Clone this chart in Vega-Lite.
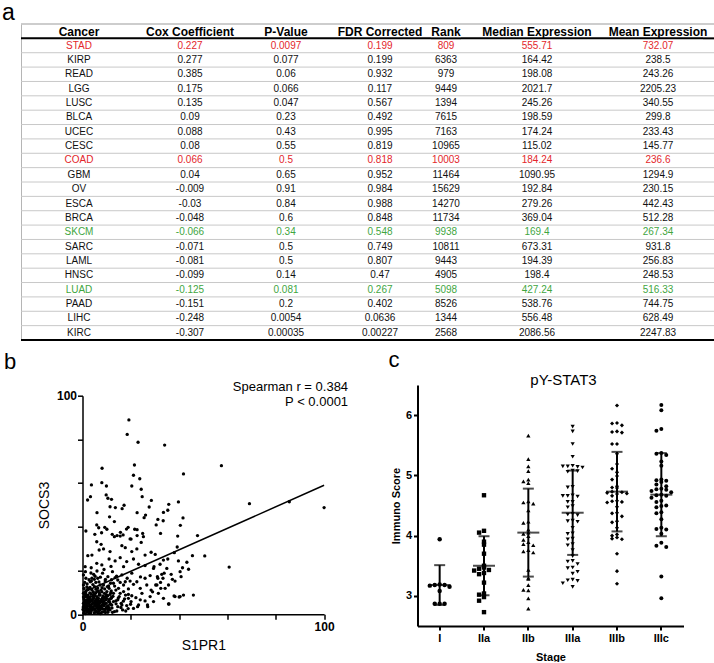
{
"$schema": "https://vega.github.io/schema/vega-lite/v6.json",
"padding": {"left": 2, "top": 2, "right": 0, "bottom": 0},
"background": "white",
"config": {"view": {"stroke": null}, "font": "Liberation Sans", "title": {"color": "black"}},
"datasets": {
"tbl": [
{"Cancer":"STAD","Cox":0.227,"P":0.0097,"FDR":0.199,"Rank":809,"Median":555.71,"Mean":732.07,"Sig":"risk"},
{"Cancer":"KIRP","Cox":0.277,"P":0.077,"FDR":0.199,"Rank":6363,"Median":164.42,"Mean":238.5,"Sig":"none"},
{"Cancer":"READ","Cox":0.385,"P":0.06,"FDR":0.932,"Rank":979,"Median":198.08,"Mean":243.26,"Sig":"none"},
{"Cancer":"LGG","Cox":0.175,"P":0.066,"FDR":0.117,"Rank":9449,"Median":2021.7,"Mean":2205.23,"Sig":"none"},
{"Cancer":"LUSC","Cox":0.135,"P":0.047,"FDR":0.567,"Rank":1394,"Median":245.26,"Mean":340.55,"Sig":"none"},
{"Cancer":"BLCA","Cox":0.09,"P":0.23,"FDR":0.492,"Rank":7615,"Median":198.59,"Mean":299.8,"Sig":"none"},
{"Cancer":"UCEC","Cox":0.088,"P":0.43,"FDR":0.995,"Rank":7163,"Median":174.24,"Mean":233.43,"Sig":"none"},
{"Cancer":"CESC","Cox":0.08,"P":0.55,"FDR":0.819,"Rank":10965,"Median":115.02,"Mean":145.77,"Sig":"none"},
{"Cancer":"COAD","Cox":0.066,"P":0.5,"FDR":0.818,"Rank":10003,"Median":184.24,"Mean":236.6,"Sig":"risk"},
{"Cancer":"GBM","Cox":0.04,"P":0.65,"FDR":0.952,"Rank":11464,"Median":1090.95,"Mean":1294.9,"Sig":"none"},
{"Cancer":"OV","Cox":-0.009,"P":0.91,"FDR":0.984,"Rank":15629,"Median":192.84,"Mean":230.15,"Sig":"none"},
{"Cancer":"ESCA","Cox":-0.03,"P":0.84,"FDR":0.988,"Rank":14270,"Median":279.26,"Mean":442.43,"Sig":"none"},
{"Cancer":"BRCA","Cox":-0.048,"P":0.6,"FDR":0.848,"Rank":11734,"Median":369.04,"Mean":512.28,"Sig":"none"},
{"Cancer":"SKCM","Cox":-0.066,"P":0.34,"FDR":0.548,"Rank":9938,"Median":169.4,"Mean":267.34,"Sig":"favorable"},
{"Cancer":"SARC","Cox":-0.071,"P":0.5,"FDR":0.749,"Rank":10811,"Median":673.31,"Mean":931.8,"Sig":"none"},
{"Cancer":"LAML","Cox":-0.081,"P":0.5,"FDR":0.807,"Rank":9443,"Median":194.39,"Mean":256.83,"Sig":"none"},
{"Cancer":"HNSC","Cox":-0.099,"P":0.14,"FDR":0.47,"Rank":4905,"Median":198.4,"Mean":248.53,"Sig":"none"},
{"Cancer":"LUAD","Cox":-0.125,"P":0.081,"FDR":0.267,"Rank":5098,"Median":427.24,"Mean":516.33,"Sig":"favorable"},
{"Cancer":"PAAD","Cox":-0.151,"P":0.2,"FDR":0.402,"Rank":8526,"Median":538.76,"Mean":744.75,"Sig":"none"},
{"Cancer":"LIHC","Cox":-0.248,"P":0.0054,"FDR":0.0636,"Rank":1344,"Median":556.48,"Mean":628.49,"Sig":"none"},
{"Cancer":"KIRC","Cox":-0.307,"P":0.00035,"FDR":0.00227,"Rank":2568,"Median":2086.56,"Mean":2247.83,"Sig":"none"}
],
"sc": [
{"s1pr1":19.2,"socs3":88.9},{"s1pr1":18.5,"socs3":82.3},{"s1pr1":23.0,"socs3":78.7},{"s1pr1":34.0,"socs3":77.4},{"s1pr1":57.5,"socs3":68.0},{"s1pr1":41.8,"socs3":64.2},{"s1pr1":21.5,"socs3":68.3},{"s1pr1":8.1,"socs3":66.8},{"s1pr1":21.1,"socs3":63.6},{"s1pr1":23.7,"socs3":62.0},{"s1pr1":3.7,"socs3":59.2},{"s1pr1":8.0,"socs3":60.2},{"s1pr1":9.9,"socs3":58.7},{"s1pr1":20.4,"socs3":58.7},{"s1pr1":24.3,"socs3":57.2},{"s1pr1":3.3,"socs3":53.8},{"s1pr1":2.1,"socs3":52.3},{"s1pr1":9.8,"socs3":54.6},{"s1pr1":10.5,"socs3":53.1},{"s1pr1":12.0,"socs3":52.6},{"s1pr1":24.7,"socs3":53.8},{"s1pr1":28.5,"socs3":52.1},{"s1pr1":11.4,"socs3":49.2},{"s1pr1":13.6,"socs3":48.8},{"s1pr1":17.2,"socs3":49.9},{"s1pr1":16.4,"socs3":48.3},{"s1pr1":6.0,"socs3":46.5},{"s1pr1":27.6,"socs3":49.1},{"s1pr1":35.7,"socs3":50.3},{"s1pr1":39.7,"socs3":51.4},{"s1pr1":69.1,"socs3":50.6},{"s1pr1":85.6,"socs3":51.5},{"s1pr1":100,"socs3":48.8},{"s1pr1":33.5,"socs3":46.6},{"s1pr1":35.3,"socs3":47.6},{"s1pr1":22.6,"socs3":46.5},{"s1pr1":26.1,"socs3":45.4},{"s1pr1":25.5,"socs3":44.2},{"s1pr1":11.2,"socs3":44.6},{"s1pr1":13.2,"socs3":42.4},{"s1pr1":31.2,"socs3":43.4},{"s1pr1":33.4,"socs3":42.8},{"s1pr1":41.6,"socs3":44.1},{"s1pr1":5.9,"socs3":40.9},{"s1pr1":6.7,"socs3":39.6},{"s1pr1":9.2,"socs3":39.8},{"s1pr1":10.1,"socs3":38.9},{"s1pr1":18.9,"socs3":39.8},{"s1pr1":18.2,"socs3":39.0},{"s1pr1":21.6,"socs3":38.9},{"s1pr1":22.6,"socs3":38.7},{"s1pr1":30.5,"socs3":40.9},{"s1pr1":40.5,"socs3":40.7},{"s1pr1":1.4,"socs3":38.1},{"s1pr1":5.1,"socs3":36.6},{"s1pr1":7.9,"socs3":37.3},{"s1pr1":12.3,"socs3":36.6},{"s1pr1":14.3,"socs3":36.0},{"s1pr1":15.7,"socs3":37.5},{"s1pr1":16.8,"socs3":36.3},{"s1pr1":24.9,"socs3":37.0},{"s1pr1":32.3,"socs3":37.0},{"s1pr1":39.4,"socs3":35.8},{"s1pr1":22.6,"socs3":36.0},{"s1pr1":20.1,"socs3":34.4},{"s1pr1":47.6,"socs3":36.0},
{"s1pr1":38.0,"socs3":28.2},{"s1pr1":45.5,"socs3":26.8},{"s1pr1":50.6,"socs3":26.7},{"s1pr1":60.7,"socs3":21.6},{"s1pr1":40.8,"socs3":17.2},{"s1pr1":37.2,"socs3":16.0},{"s1pr1":37.9,"socs3":8.4},{"s1pr1":40.0,"socs3":7.9},{"s1pr1":41.8,"socs3":8.8},{"s1pr1":35.8,"socs3":4.7},
{"s1pr1":5.9,"socs3":33.2},{"s1pr1":7.7,"socs3":32.0},{"s1pr1":3.9,"socs3":27.1},{"s1pr1":2.2,"socs3":26.8},{"s1pr1":6.9,"socs3":29.4},{"s1pr1":8.7,"socs3":29.9},{"s1pr1":11.4,"socs3":28.7},{"s1pr1":13.2,"socs3":35.5},{"s1pr1":15.6,"socs3":35.8},{"s1pr1":16.3,"socs3":31.4},{"s1pr1":17.7,"socs3":30.5},{"s1pr1":19.7,"socs3":34.5},{"s1pr1":20.4,"socs3":28.7},{"s1pr1":22.5,"socs3":29.9},{"s1pr1":24.3,"socs3":32.9},{"s1pr1":25.2,"socs3":35.5},{"s1pr1":25.9,"socs3":27.1},{"s1pr1":28.4,"socs3":28.4},{"s1pr1":30.1,"socs3":27.4},{"s1pr1":33.5,"socs3":24.8},{"s1pr1":35.3,"socs3":25.3},{"s1pr1":39.2,"socs3":30.8},{"s1pr1":39.7,"socs3":24.4},{"s1pr1":43.2,"socs3":23.8},{"s1pr1":11.0,"socs3":25.3},{"s1pr1":13.5,"socs3":24.4},{"s1pr1":15.6,"socs3":25.9},{"s1pr1":18.3,"socs3":24.1},{"s1pr1":21.1,"socs3":25.3},{"s1pr1":23.2,"socs3":22.9},{"s1pr1":5.9,"socs3":23.3},{"s1pr1":3.6,"socs3":21.3},{"s1pr1":1.1,"socs3":21.8},{"s1pr1":8.0,"socs3":22.6},{"s1pr1":17.0,"socs3":21.8},{"s1pr1":25.9,"socs3":22.3},{"s1pr1":29.4,"socs3":21.0},{"s1pr1":32.1,"socs3":22.9},{"s1pr1":41.4,"socs3":21.3},{"s1pr1":43.9,"socs3":20.6},
{"s1pr1":26.9,"socs3":4.3},{"s1pr1":22.8,"socs3":3.5},{"s1pr1":30.3,"socs3":13.4},{"s1pr1":32.4,"socs3":11.9},{"s1pr1":29.0,"socs3":10.3},{"s1pr1":31.0,"socs3":17.2},{"s1pr1":33.8,"socs3":18.8},{"s1pr1":29.6,"socs3":21.8},{"s1pr1":33.3,"socs3":16.5},{"s1pr1":34.9,"socs3":21.0},
{"s1pr1":1.4,"socs3":16.5},{"s1pr1":3.2,"socs3":14.9},{"s1pr1":4.6,"socs3":18.3},{"s1pr1":6.3,"socs3":16.5},{"s1pr1":8.3,"socs3":18.8},{"s1pr1":10.5,"socs3":17.2},{"s1pr1":12.4,"socs3":19.5},{"s1pr1":14.6,"socs3":15.7},{"s1pr1":16.3,"socs3":18.0},{"s1pr1":18.5,"socs3":16.5},{"s1pr1":20.4,"socs3":18.8},{"s1pr1":22.5,"socs3":14.9},{"s1pr1":24.0,"socs3":17.1},{"s1pr1":25.9,"socs3":16.5},{"s1pr1":28.0,"socs3":17.7},{"s1pr1":31.2,"socs3":16.5},{"s1pr1":32.3,"socs3":14.6},{"s1pr1":35.6,"socs3":13.4},{"s1pr1":38.3,"socs3":15.2},{"s1pr1":30.8,"socs3":13.4},{"s1pr1":26.6,"socs3":13.4},{"s1pr1":0.4,"socs3":13.4},{"s1pr1":2.5,"socs3":11.9},{"s1pr1":5.0,"socs3":12.7},{"s1pr1":6.6,"socs3":10.7},{"s1pr1":8.7,"socs3":13.4},{"s1pr1":11.0,"socs3":11.9},{"s1pr1":12.8,"socs3":14.2},{"s1pr1":14.9,"socs3":11.9},{"s1pr1":17.0,"socs3":13.4},{"s1pr1":19.0,"socs3":11.6},{"s1pr1":21.1,"socs3":13.7},{"s1pr1":23.9,"socs3":11.9},{"s1pr1":28.4,"socs3":11.1},{"s1pr1":34.2,"socs3":11.9},{"s1pr1":0.4,"socs3":18.0},{"s1pr1":9.4,"socs3":15.2},{"s1pr1":11.6,"socs3":14.2},{"s1pr1":13.5,"socs3":16.8},{"s1pr1":17.7,"socs3":14.9},{"s1pr1":5.5,"socs3":14.6},{"s1pr1":7.3,"socs3":13.4},{"s1pr1":3.9,"socs3":16.5},{"s1pr1":15.6,"socs3":14.6},{"s1pr1":19.7,"socs3":15.2},{"s1pr1":32.8,"socs3":18.3},{"s1pr1":36.7,"socs3":18.3},{"s1pr1":40.4,"socs3":19.5},
{"s1pr1":0.4,"socs3":9.6},{"s1pr1":1.1,"socs3":8.1},{"s1pr1":1.7,"socs3":6.6},{"s1pr1":0.4,"socs3":5.0},{"s1pr1":1.1,"socs3":3.5},{"s1pr1":0.8,"socs3":1.5},{"s1pr1":2.2,"socs3":2.4},{"s1pr1":2.5,"socs3":5.0},{"s1pr1":3.2,"socs3":8.1},{"s1pr1":3.6,"socs3":4.0},{"s1pr1":4.1,"socs3":6.6},{"s1pr1":4.6,"socs3":9.1},{"s1pr1":5.0,"socs3":2.0},{"s1pr1":5.2,"socs3":5.0},{"s1pr1":5.9,"socs3":7.3},{"s1pr1":6.3,"socs3":3.5},{"s1pr1":6.6,"socs3":1.2},{"s1pr1":6.9,"socs3":8.8},{"s1pr1":7.3,"socs3":5.8},{"s1pr1":7.7,"socs3":2.7},{"s1pr1":8.3,"socs3":7.6},{"s1pr1":8.7,"socs3":4.6},{"s1pr1":9.1,"socs3":9.6},{"s1pr1":9.4,"socs3":1.5},{"s1pr1":9.7,"socs3":6.6},{"s1pr1":10.1,"socs3":3.5},{"s1pr1":10.5,"socs3":8.5},{"s1pr1":10.8,"socs3":5.8},{"s1pr1":11.4,"socs3":2.0},{"s1pr1":11.9,"socs3":7.3},{"s1pr1":12.1,"socs3":4.3},{"s1pr1":12.8,"socs3":9.6},{"s1pr1":13.2,"socs3":1.2},{"s1pr1":13.8,"socs3":6.1},{"s1pr1":14.6,"socs3":3.5},{"s1pr1":15.2,"socs3":8.1},{"s1pr1":16.0,"socs3":5.0},{"s1pr1":16.6,"socs3":2.0},{"s1pr1":17.4,"socs3":7.0},{"s1pr1":18.3,"socs3":4.0},{"s1pr1":19.0,"socs3":9.1},{"s1pr1":20.1,"socs3":5.8},{"s1pr1":21.1,"socs3":2.7},{"s1pr1":22.1,"socs3":7.6},{"s1pr1":23.2,"socs3":4.3},{"s1pr1":24.6,"socs3":9.6},{"s1pr1":25.9,"socs3":6.1},{"s1pr1":27.0,"socs3":3.5},{"s1pr1":28.0,"socs3":8.1},{"s1pr1":29.4,"socs3":5.8},{"s1pr1":31.4,"socs3":9.6},{"s1pr1":33.5,"socs3":7.3},{"s1pr1":35.6,"socs3":4.7},{"s1pr1":38.3,"socs3":8.1},{"s1pr1":40.4,"socs3":8.1},{"s1pr1":45.9,"socs3":8.8},
{"s1pr1":1.4,"socs3":6.1},{"s1pr1":2.8,"socs3":0.9},{"s1pr1":3.9,"socs3":3.0},{"s1pr1":5.5,"socs3":0.9},{"s1pr1":6.2,"socs3":6.1},{"s1pr1":7.0,"socs3":4.0},{"s1pr1":8.0,"socs3":0.9},{"s1pr1":9.8,"socs3":5.0},{"s1pr1":11.0,"socs3":3.0},{"s1pr1":12.4,"socs3":0.9},{"s1pr1":4.6,"socs3":7.6},{"s1pr1":3.2,"socs3":5.8},{"s1pr1":1.9,"socs3":4.0},{"s1pr1":0.6,"socs3":7.0},{"s1pr1":2.2,"socs3":8.8},{"s1pr1":5.9,"socs3":10.4},{"s1pr1":7.7,"socs3":11.1},{"s1pr1":10.1,"socs3":10.4},{"s1pr1":11.9,"socs3":10.7},{"s1pr1":13.8,"socs3":11.1},{"s1pr1":3.9,"socs3":11.1},{"s1pr1":1.4,"socs3":10.7},{"s1pr1":17.0,"socs3":10.4},{"s1pr1":19.0,"socs3":7.3},{"s1pr1":14.6,"socs3":6.6},{"s1pr1":15.6,"socs3":9.6},{"s1pr1":20.4,"socs3":8.5},{"s1pr1":23.9,"socs3":6.6},{"s1pr1":17.9,"socs3":1.5},{"s1pr1":11.4,"socs3":9.1},{"s1pr1":6.6,"socs3":7.3},{"s1pr1":5.0,"socs3":4.3},{"s1pr1":8.4,"socs3":2.4},{"s1pr1":10.5,"socs3":0.9},{"s1pr1":14.2,"socs3":1.5},{"s1pr1":16.3,"socs3":4.3},{"s1pr1":2.5,"socs3":2.0},{"s1pr1":7.3,"socs3":8.8},{"s1pr1":12.8,"socs3":5.8},{"s1pr1":9.4,"socs3":7.9},
{"s1pr1":1.8,"socs3":12.5},{"s1pr1":3.0,"socs3":9.8},{"s1pr1":4.3,"socs3":13.6},{"s1pr1":5.6,"socs3":11.5},{"s1pr1":6.8,"socs3":14.8},{"s1pr1":8.1,"socs3":12.2},{"s1pr1":9.5,"socs3":16.0},{"s1pr1":10.8,"socs3":13.0},{"s1pr1":12.0,"socs3":15.8},{"s1pr1":13.3,"socs3":12.9},{"s1pr1":14.1,"socs3":17.5},{"s1pr1":2.7,"socs3":15.8},{"s1pr1":0.9,"socs3":14.6},{"s1pr1":3.5,"socs3":18.9},{"s1pr1":6.0,"socs3":19.8},{"s1pr1":8.9,"socs3":20.5},{"s1pr1":11.8,"socs3":21.9},{"s1pr1":7.4,"socs3":17.0},{"s1pr1":4.9,"socs3":16.0},{"s1pr1":1.2,"socs3":19.5},{"s1pr1":9.9,"socs3":9.0},{"s1pr1":11.3,"socs3":6.9},{"s1pr1":12.6,"socs3":8.2},{"s1pr1":13.9,"socs3":4.8},{"s1pr1":14.8,"socs3":7.4},{"s1pr1":15.9,"socs3":3.1},{"s1pr1":16.9,"socs3":6.0},{"s1pr1":17.8,"socs3":8.8},{"s1pr1":18.9,"socs3":2.6},{"s1pr1":19.9,"socs3":4.6},{"s1pr1":2.0,"socs3":1.0},{"s1pr1":3.8,"socs3":1.8},{"s1pr1":5.8,"socs3":2.8},{"s1pr1":7.6,"socs3":3.8},{"s1pr1":9.2,"socs3":2.2},{"s1pr1":10.6,"socs3":4.0},{"s1pr1":4.4,"socs3":5.2},{"s1pr1":6.7,"socs3":6.2},{"s1pr1":8.5,"socs3":8.4},{"s1pr1":2.6,"socs3":7.6},
{"s1pr1":0.5,"socs3":0.5},{"s1pr1":1.0,"socs3":2.8},{"s1pr1":1.6,"socs3":4.8},{"s1pr1":2.3,"socs3":6.9},{"s1pr1":2.9,"socs3":3.6},{"s1pr1":3.4,"socs3":1.2},{"s1pr1":4.0,"socs3":4.9},{"s1pr1":4.7,"socs3":2.6},{"s1pr1":5.3,"socs3":6.4},{"s1pr1":5.8,"socs3":4.1},{"s1pr1":6.4,"socs3":0.6},{"s1pr1":7.1,"socs3":5.3},{"s1pr1":7.9,"socs3":6.9},{"s1pr1":8.6,"socs3":1.1},{"s1pr1":9.0,"socs3":3.9},{"s1pr1":9.6,"socs3":8.0},{"s1pr1":10.3,"socs3":2.6},{"s1pr1":10.9,"socs3":6.6},{"s1pr1":11.6,"socs3":4.6},{"s1pr1":12.2,"socs3":2.9},{"s1pr1":0.3,"socs3":3.3},{"s1pr1":0.9,"socs3":6.0},{"s1pr1":1.5,"socs3":8.6},{"s1pr1":2.0,"socs3":5.4},{"s1pr1":2.8,"socs3":7.0},{"s1pr1":3.3,"socs3":2.9},{"s1pr1":4.2,"socs3":8.3},{"s1pr1":4.8,"socs3":0.7},{"s1pr1":5.4,"socs3":3.9},{"s1pr1":6.0,"socs3":8.1},{"s1pr1":6.5,"socs3":4.6},{"s1pr1":7.2,"socs3":1.9},{"s1pr1":7.8,"socs3":6.3},{"s1pr1":8.2,"socs3":4.4},{"s1pr1":8.9,"socs3":5.9},{"s1pr1":9.5,"socs3":0.8},{"s1pr1":10.0,"socs3":7.3},{"s1pr1":10.7,"socs3":1.9},{"s1pr1":11.2,"socs3":5.5},{"s1pr1":12.0,"socs3":7.8},{"s1pr1":0.6,"socs3":11.8},{"s1pr1":1.3,"socs3":9.9},{"s1pr1":2.1,"socs3":11.3},{"s1pr1":3.1,"socs3":12.3},{"s1pr1":4.5,"socs3":10.2},{"s1pr1":5.1,"socs3":8.6},{"s1pr1":6.3,"socs3":12.0},{"s1pr1":7.0,"socs3":9.7},{"s1pr1":8.0,"socs3":10.3},{"s1pr1":9.2,"socs3":11.6},{"s1pr1":10.3,"socs3":12.7},{"s1pr1":11.7,"socs3":9.9},{"s1pr1":1.9,"socs3":13.9},{"s1pr1":3.7,"socs3":15.2},{"s1pr1":5.2,"socs3":17.4},{"s1pr1":0.2,"socs3":2.2},{"s1pr1":1.2,"socs3":0.3},{"s1pr1":2.4,"socs3":1.5},{"s1pr1":3.0,"socs3":4.4},{"s1pr1":6.9,"socs3":3.0},
{"s1pr1":0.7,"socs3":4.1},{"s1pr1":1.4,"socs3":1.9},{"s1pr1":2.0,"socs3":7.9},{"s1pr1":2.7,"socs3":5.9},{"s1pr1":3.3,"socs3":0.4},{"s1pr1":3.9,"socs3":6.3},{"s1pr1":4.5,"socs3":3.4},{"s1pr1":5.0,"socs3":5.7},{"s1pr1":5.6,"socs3":1.6},{"s1pr1":6.1,"socs3":7.1},{"s1pr1":6.8,"socs3":5.0},{"s1pr1":7.4,"socs3":0.3},{"s1pr1":8.0,"socs3":3.1},{"s1pr1":8.7,"socs3":7.1},{"s1pr1":9.3,"socs3":4.8},{"s1pr1":9.9,"socs3":2.9},{"s1pr1":0.4,"socs3":7.9},{"s1pr1":1.1,"socs3":5.2},{"s1pr1":1.8,"socs3":3.1},{"s1pr1":2.5,"socs3":0.8},{"s1pr1":3.1,"socs3":6.8},{"s1pr1":3.7,"socs3":2.2},{"s1pr1":4.3,"socs3":7.2},{"s1pr1":5.9,"socs3":5.3},{"s1pr1":6.6,"socs3":2.2},{"s1pr1":7.5,"socs3":6.0},{"s1pr1":8.3,"socs3":5.5},{"s1pr1":0.9,"socs3":9.1},{"s1pr1":3.5,"socs3":9.4},{"s1pr1":5.4,"socs3":9.6}
],
"ihc": [
{"stage":"I","score":3.94},{"stage":"I","score":3.19},{"stage":"I","score":3.18},{"stage":"I","score":3.18},{"stage":"I","score":3.17},{"stage":"I","score":3.15},{"stage":"I","score":3.08},{"stage":"I","score":2.87},{"stage":"I","score":2.87},{"stage":"I","score":2.87},
{"stage":"IIa","score":4.67},{"stage":"IIa","score":4.08},{"stage":"IIa","score":4.05},{"stage":"IIa","score":3.90},{"stage":"IIa","score":3.85},{"stage":"IIa","score":3.70},{"stage":"IIa","score":3.50},{"stage":"IIa","score":3.47},{"stage":"IIa","score":3.45},{"stage":"IIa","score":3.43},{"stage":"IIa","score":3.42},{"stage":"IIa","score":3.38},{"stage":"IIa","score":3.36},{"stage":"IIa","score":3.22},{"stage":"IIa","score":3.04},{"stage":"IIa","score":3.02},{"stage":"IIa","score":2.98},{"stage":"IIa","score":2.92},{"stage":"IIa","score":2.73},
{"stage":"IIb","score":5.66},{"stage":"IIb","score":5.27},{"stage":"IIb","score":5.15},{"stage":"IIb","score":5.07},{"stage":"IIb","score":4.93},{"stage":"IIb","score":4.90},{"stage":"IIb","score":4.87},{"stage":"IIb","score":4.57},{"stage":"IIb","score":4.55},{"stage":"IIb","score":4.53},{"stage":"IIb","score":4.42},{"stage":"IIb","score":4.23},{"stage":"IIb","score":4.21},{"stage":"IIb","score":4.10},{"stage":"IIb","score":4.05},{"stage":"IIb","score":4.03},{"stage":"IIb","score":3.99},{"stage":"IIb","score":3.93},{"stage":"IIb","score":3.89},{"stage":"IIb","score":3.86},{"stage":"IIb","score":3.84},{"stage":"IIb","score":3.76},{"stage":"IIb","score":3.74},{"stage":"IIb","score":3.72},{"stage":"IIb","score":3.43},{"stage":"IIb","score":3.30},{"stage":"IIb","score":3.28},{"stage":"IIb","score":3.18},{"stage":"IIb","score":3.10},{"stage":"IIb","score":3.09},{"stage":"IIb","score":2.96},{"stage":"IIb","score":2.79},
{"stage":"IIIa","score":5.81},{"stage":"IIIa","score":5.73},{"stage":"IIIa","score":5.52},{"stage":"IIIa","score":5.31},{"stage":"IIIa","score":5.16},{"stage":"IIIa","score":5.15},{"stage":"IIIa","score":5.14},{"stage":"IIIa","score":5.15},{"stage":"IIIa","score":5.13},{"stage":"IIIa","score":5.08},{"stage":"IIIa","score":5.06},{"stage":"IIIa","score":5.07},{"stage":"IIIa","score":4.81},{"stage":"IIIa","score":4.80},{"stage":"IIIa","score":4.67},{"stage":"IIIa","score":4.66},{"stage":"IIIa","score":4.65},{"stage":"IIIa","score":4.66},{"stage":"IIIa","score":4.56},{"stage":"IIIa","score":4.56},{"stage":"IIIa","score":4.49},{"stage":"IIIa","score":4.47},{"stage":"IIIa","score":4.36},{"stage":"IIIa","score":4.35},{"stage":"IIIa","score":4.34},{"stage":"IIIa","score":4.25},{"stage":"IIIa","score":4.24},{"stage":"IIIa","score":4.23},{"stage":"IIIa","score":4.13},{"stage":"IIIa","score":4.04},{"stage":"IIIa","score":4.03},{"stage":"IIIa","score":3.95},{"stage":"IIIa","score":3.94},{"stage":"IIIa","score":3.86},{"stage":"IIIa","score":3.84},{"stage":"IIIa","score":3.76},{"stage":"IIIa","score":3.66},{"stage":"IIIa","score":3.58},{"stage":"IIIa","score":3.57},{"stage":"IIIa","score":3.53},{"stage":"IIIa","score":3.47},{"stage":"IIIa","score":3.46},{"stage":"IIIa","score":3.40},{"stage":"IIIa","score":3.37},{"stage":"IIIa","score":3.27},{"stage":"IIIa","score":3.26},{"stage":"IIIa","score":3.25},{"stage":"IIIa","score":3.21},{"stage":"IIIa","score":3.15},
{"stage":"IIIb","score":6.16},{"stage":"IIIb","score":5.87},{"stage":"IIIb","score":5.86},{"stage":"IIIb","score":5.83},{"stage":"IIIb","score":5.73},{"stage":"IIIb","score":5.72},{"stage":"IIIb","score":5.71},{"stage":"IIIb","score":5.52},{"stage":"IIIb","score":5.52},{"stage":"IIIb","score":5.36},{"stage":"IIIb","score":5.19},{"stage":"IIIb","score":5.11},{"stage":"IIIb","score":5.05},{"stage":"IIIb","score":4.99},{"stage":"IIIb","score":4.93},{"stage":"IIIb","score":4.82},{"stage":"IIIb","score":4.80},{"stage":"IIIb","score":4.79},{"stage":"IIIb","score":4.73},{"stage":"IIIb","score":4.72},{"stage":"IIIb","score":4.71},{"stage":"IIIb","score":4.70},{"stage":"IIIb","score":4.69},{"stage":"IIIb","score":4.66},{"stage":"IIIb","score":4.58},{"stage":"IIIb","score":4.57},{"stage":"IIIb","score":4.56},{"stage":"IIIb","score":4.55},{"stage":"IIIb","score":4.48},{"stage":"IIIb","score":4.38},{"stage":"IIIb","score":4.37},{"stage":"IIIb","score":4.32},{"stage":"IIIb","score":4.24},{"stage":"IIIb","score":4.22},{"stage":"IIIb","score":4.13},{"stage":"IIIb","score":4.02},{"stage":"IIIb","score":4.00},{"stage":"IIIb","score":3.97},{"stage":"IIIb","score":3.95},{"stage":"IIIb","score":3.94},{"stage":"IIIb","score":3.70},{"stage":"IIIb","score":3.41},{"stage":"IIIb","score":3.20},
{"stage":"IIIc","score":6.17},{"stage":"IIIc","score":6.08},{"stage":"IIIc","score":5.77},{"stage":"IIIc","score":5.74},{"stage":"IIIc","score":5.37},{"stage":"IIIc","score":5.36},{"stage":"IIIc","score":5.34},{"stage":"IIIc","score":5.23},{"stage":"IIIc","score":5.16},{"stage":"IIIc","score":4.93},{"stage":"IIIc","score":4.92},{"stage":"IIIc","score":4.91},{"stage":"IIIc","score":4.89},{"stage":"IIIc","score":4.85},{"stage":"IIIc","score":4.82},{"stage":"IIIc","score":4.78},{"stage":"IIIc","score":4.77},{"stage":"IIIc","score":4.76},{"stage":"IIIc","score":4.74},{"stage":"IIIc","score":4.72},{"stage":"IIIc","score":4.68},{"stage":"IIIc","score":4.67},{"stage":"IIIc","score":4.66},{"stage":"IIIc","score":4.63},{"stage":"IIIc","score":4.58},{"stage":"IIIc","score":4.56},{"stage":"IIIc","score":4.50},{"stage":"IIIc","score":4.49},{"stage":"IIIc","score":4.47},{"stage":"IIIc","score":4.39},{"stage":"IIIc","score":4.37},{"stage":"IIIc","score":4.27},{"stage":"IIIc","score":4.13},{"stage":"IIIc","score":4.11},{"stage":"IIIc","score":4.10},{"stage":"IIIc","score":4.03},{"stage":"IIIc","score":3.88},{"stage":"IIIc","score":3.83},{"stage":"IIIc","score":3.81},{"stage":"IIIc","score":3.32},{"stage":"IIIc","score":2.96}
],
"ihcsum": [
{"stage":"I","mean":3.18,"sd":0.33},
{"stage":"IIa","mean":3.50,"sd":0.49},
{"stage":"IIb","mean":4.05,"sd":0.73},
{"stage":"IIIa","mean":4.38,"sd":0.70},
{"stage":"IIIb","mean":4.73,"sd":0.66},
{"stage":"IIIc","mean":4.68,"sd":0.69}
]
},
"spacing": 8,
"vconcat": [
{
"title": {"text": "a", "anchor": "start", "fontSize": 23, "fontWeight": "normal", "dx": -18, "offset": -2},
"bounds": "flush",
"spacing": 0,
"hconcat": [
{"width":116,"height":316,"data":{"name":"tbl"},"layer":[
{"mark":{"type":"rule","color":"#c8c8c8","strokeWidth":1},"encoding":{"y":{"field":"Cancer","type":"nominal","bandPosition":0,"scale":{"type":"band","domain":["header","STAD","KIRP","READ","LGG","LUSC","BLCA","UCEC","CESC","COAD","GBM","OV","ESCA","BRCA","SKCM","SARC","LAML","HNSC","LUAD","PAAD","LIHC","KIRC"],"paddingInner":0,"paddingOuter":0},"axis":{"domain":true,"domainColor":"#b5b5b5","domainWidth":1,"labels":false,"ticks":false,"grid":false,"title":null}}}},
{"mark":{"type":"text","fontSize":10},"encoding":{"y":{"field":"Cancer","type":"nominal","bandPosition":0.5},"text":{"field":"Cancer","type":"nominal"},"color":{"field":"Sig","type":"nominal","scale":{"domain":["risk","favorable","none"],"range":["#e3262b","#3fa63f","#111111"]},"legend":null}}},
{"data":{"values":[{}]},"mark":{"type":"text","fontSize":12,"fontWeight":"bold","color":"black","text":"Cancer","dy":1},"encoding":{"y":{"datum":"header","bandPosition":0.5}}},
{"data":{"values":[{}]},"mark":{"type":"rule","color":"#bdbdbd","strokeWidth":1.5},"encoding":{"y":{"datum":"header","bandPosition":0}}},
{"data":{"values":[{}]},"mark":{"type":"rule","color":"black","strokeWidth":2},"encoding":{"y":{"datum":"STAD","bandPosition":0}}},
{"data":{"values":[{}]},"mark":{"type":"rule","color":"black","strokeWidth":2},"encoding":{"y":{"datum":"KIRC","bandPosition":1}}}
]},
{"width":106,"height":316,"data":{"name":"tbl"},"layer":[
{"mark":{"type":"rule","color":"#c8c8c8","strokeWidth":1},"encoding":{"y":{"field":"Cancer","type":"nominal","bandPosition":0,"scale":{"type":"band","domain":["header","STAD","KIRP","READ","LGG","LUSC","BLCA","UCEC","CESC","COAD","GBM","OV","ESCA","BRCA","SKCM","SARC","LAML","HNSC","LUAD","PAAD","LIHC","KIRC"],"paddingInner":0,"paddingOuter":0},"axis":null}}},
{"mark":{"type":"text","fontSize":10},"encoding":{"y":{"field":"Cancer","type":"nominal","bandPosition":0.5},"text":{"field":"Cox","type":"nominal"},"color":{"field":"Sig","type":"nominal","scale":{"domain":["risk","favorable","none"],"range":["#e3262b","#3fa63f","#111111"]},"legend":null}}},
{"data":{"values":[{}]},"mark":{"type":"text","fontSize":12,"fontWeight":"bold","color":"black","text":"Cox Coefficient","dy":1},"encoding":{"y":{"datum":"header","bandPosition":0.5}}},
{"data":{"values":[{}]},"mark":{"type":"rule","color":"#bdbdbd","strokeWidth":1.5},"encoding":{"y":{"datum":"header","bandPosition":0}}},
{"data":{"values":[{}]},"mark":{"type":"rule","color":"black","strokeWidth":2},"encoding":{"y":{"datum":"STAD","bandPosition":0}}},
{"data":{"values":[{}]},"mark":{"type":"rule","color":"black","strokeWidth":2},"encoding":{"y":{"datum":"KIRC","bandPosition":1}}}
]},
{"width":86,"height":316,"data":{"name":"tbl"},"layer":[
{"mark":{"type":"rule","color":"#c8c8c8","strokeWidth":1},"encoding":{"y":{"field":"Cancer","type":"nominal","bandPosition":0,"scale":{"type":"band","domain":["header","STAD","KIRP","READ","LGG","LUSC","BLCA","UCEC","CESC","COAD","GBM","OV","ESCA","BRCA","SKCM","SARC","LAML","HNSC","LUAD","PAAD","LIHC","KIRC"],"paddingInner":0,"paddingOuter":0},"axis":null}}},
{"mark":{"type":"text","fontSize":10},"encoding":{"y":{"field":"Cancer","type":"nominal","bandPosition":0.5},"text":{"field":"P","type":"nominal"},"color":{"field":"Sig","type":"nominal","scale":{"domain":["risk","favorable","none"],"range":["#e3262b","#3fa63f","#111111"]},"legend":null}}},
{"data":{"values":[{}]},"mark":{"type":"text","fontSize":12,"fontWeight":"bold","color":"black","text":"P-Value","dy":1},"encoding":{"y":{"datum":"header","bandPosition":0.5}}},
{"data":{"values":[{}]},"mark":{"type":"rule","color":"#bdbdbd","strokeWidth":1.5},"encoding":{"y":{"datum":"header","bandPosition":0}}},
{"data":{"values":[{}]},"mark":{"type":"rule","color":"black","strokeWidth":2},"encoding":{"y":{"datum":"STAD","bandPosition":0}}},
{"data":{"values":[{}]},"mark":{"type":"rule","color":"black","strokeWidth":2},"encoding":{"y":{"datum":"KIRC","bandPosition":1}}}
]},
{"width":102,"height":316,"data":{"name":"tbl"},"layer":[
{"mark":{"type":"rule","color":"#c8c8c8","strokeWidth":1},"encoding":{"y":{"field":"Cancer","type":"nominal","bandPosition":0,"scale":{"type":"band","domain":["header","STAD","KIRP","READ","LGG","LUSC","BLCA","UCEC","CESC","COAD","GBM","OV","ESCA","BRCA","SKCM","SARC","LAML","HNSC","LUAD","PAAD","LIHC","KIRC"],"paddingInner":0,"paddingOuter":0},"axis":null}}},
{"mark":{"type":"text","fontSize":10},"encoding":{"y":{"field":"Cancer","type":"nominal","bandPosition":0.5},"text":{"field":"FDR","type":"nominal"},"color":{"field":"Sig","type":"nominal","scale":{"domain":["risk","favorable","none"],"range":["#e3262b","#3fa63f","#111111"]},"legend":null}}},
{"data":{"values":[{}]},"mark":{"type":"text","fontSize":12,"fontWeight":"bold","color":"black","text":"FDR Corrected","dy":1},"encoding":{"y":{"datum":"header","bandPosition":0.5}}},
{"data":{"values":[{}]},"mark":{"type":"rule","color":"#bdbdbd","strokeWidth":1.5},"encoding":{"y":{"datum":"header","bandPosition":0}}},
{"data":{"values":[{}]},"mark":{"type":"rule","color":"black","strokeWidth":2},"encoding":{"y":{"datum":"STAD","bandPosition":0}}},
{"data":{"values":[{}]},"mark":{"type":"rule","color":"black","strokeWidth":2},"encoding":{"y":{"datum":"KIRC","bandPosition":1}}}
]},
{"width":30,"height":316,"data":{"name":"tbl"},"layer":[
{"mark":{"type":"rule","color":"#c8c8c8","strokeWidth":1},"encoding":{"y":{"field":"Cancer","type":"nominal","bandPosition":0,"scale":{"type":"band","domain":["header","STAD","KIRP","READ","LGG","LUSC","BLCA","UCEC","CESC","COAD","GBM","OV","ESCA","BRCA","SKCM","SARC","LAML","HNSC","LUAD","PAAD","LIHC","KIRC"],"paddingInner":0,"paddingOuter":0},"axis":null}}},
{"mark":{"type":"text","fontSize":10},"encoding":{"y":{"field":"Cancer","type":"nominal","bandPosition":0.5},"text":{"field":"Rank","type":"nominal"},"color":{"field":"Sig","type":"nominal","scale":{"domain":["risk","favorable","none"],"range":["#e3262b","#3fa63f","#111111"]},"legend":null}}},
{"data":{"values":[{}]},"mark":{"type":"text","fontSize":12,"fontWeight":"bold","color":"black","text":"Rank","dy":1},"encoding":{"y":{"datum":"header","bandPosition":0.5}}},
{"data":{"values":[{}]},"mark":{"type":"rule","color":"#bdbdbd","strokeWidth":1.5},"encoding":{"y":{"datum":"header","bandPosition":0}}},
{"data":{"values":[{}]},"mark":{"type":"rule","color":"black","strokeWidth":2},"encoding":{"y":{"datum":"STAD","bandPosition":0}}},
{"data":{"values":[{}]},"mark":{"type":"rule","color":"black","strokeWidth":2},"encoding":{"y":{"datum":"KIRC","bandPosition":1}}}
]},
{"width":152,"height":316,"data":{"name":"tbl"},"layer":[
{"mark":{"type":"rule","color":"#c8c8c8","strokeWidth":1},"encoding":{"y":{"field":"Cancer","type":"nominal","bandPosition":0,"scale":{"type":"band","domain":["header","STAD","KIRP","READ","LGG","LUSC","BLCA","UCEC","CESC","COAD","GBM","OV","ESCA","BRCA","SKCM","SARC","LAML","HNSC","LUAD","PAAD","LIHC","KIRC"],"paddingInner":0,"paddingOuter":0},"axis":null}}},
{"mark":{"type":"text","fontSize":10},"encoding":{"y":{"field":"Cancer","type":"nominal","bandPosition":0.5},"text":{"field":"Median","type":"nominal"},"color":{"field":"Sig","type":"nominal","scale":{"domain":["risk","favorable","none"],"range":["#e3262b","#3fa63f","#111111"]},"legend":null}}},
{"data":{"values":[{}]},"mark":{"type":"text","fontSize":12,"fontWeight":"bold","color":"black","text":"Median Expression","dy":1},"encoding":{"y":{"datum":"header","bandPosition":0.5}}},
{"data":{"values":[{}]},"mark":{"type":"rule","color":"#bdbdbd","strokeWidth":1.5},"encoding":{"y":{"datum":"header","bandPosition":0}}},
{"data":{"values":[{}]},"mark":{"type":"rule","color":"black","strokeWidth":2},"encoding":{"y":{"datum":"STAD","bandPosition":0}}},
{"data":{"values":[{}]},"mark":{"type":"rule","color":"black","strokeWidth":2},"encoding":{"y":{"datum":"KIRC","bandPosition":1}}}
]},
{"width":90,"height":316,"data":{"name":"tbl"},"layer":[
{"mark":{"type":"rule","color":"#c8c8c8","strokeWidth":1},"encoding":{"y":{"field":"Cancer","type":"nominal","bandPosition":0,"scale":{"type":"band","domain":["header","STAD","KIRP","READ","LGG","LUSC","BLCA","UCEC","CESC","COAD","GBM","OV","ESCA","BRCA","SKCM","SARC","LAML","HNSC","LUAD","PAAD","LIHC","KIRC"],"paddingInner":0,"paddingOuter":0},"axis":null}}},
{"mark":{"type":"text","fontSize":10},"encoding":{"y":{"field":"Cancer","type":"nominal","bandPosition":0.5},"text":{"field":"Mean","type":"nominal"},"color":{"field":"Sig","type":"nominal","scale":{"domain":["risk","favorable","none"],"range":["#e3262b","#3fa63f","#111111"]},"legend":null}}},
{"data":{"values":[{}]},"mark":{"type":"text","fontSize":12,"fontWeight":"bold","color":"black","text":"Mean Expression","dy":1},"encoding":{"y":{"datum":"header","bandPosition":0.5}}},
{"data":{"values":[{}]},"mark":{"type":"rule","color":"#bdbdbd","strokeWidth":1.5},"encoding":{"y":{"datum":"header","bandPosition":0}}},
{"data":{"values":[{}]},"mark":{"type":"rule","color":"black","strokeWidth":2},"encoding":{"y":{"datum":"STAD","bandPosition":0}}},
{"data":{"values":[{}]},"mark":{"type":"rule","color":"black","strokeWidth":2},"encoding":{"y":{"datum":"KIRC","bandPosition":1}}}
]},
{"width":12,"height":316,"data":{"name":"tbl"},"layer":[
{"mark":{"type":"rule","color":"#c8c8c8","strokeWidth":1},"encoding":{"y":{"field":"Cancer","type":"nominal","bandPosition":0,"scale":{"type":"band","domain":["header","STAD","KIRP","READ","LGG","LUSC","BLCA","UCEC","CESC","COAD","GBM","OV","ESCA","BRCA","SKCM","SARC","LAML","HNSC","LUAD","PAAD","LIHC","KIRC"],"paddingInner":0,"paddingOuter":0},"axis":null}}},
{"data":{"values":[{}]},"mark":{"type":"rule","color":"#bdbdbd","strokeWidth":1.5},"encoding":{"y":{"datum":"header","bandPosition":0}}},
{"data":{"values":[{}]},"mark":{"type":"rule","color":"black","strokeWidth":2},"encoding":{"y":{"datum":"STAD","bandPosition":0}}},
{"data":{"values":[{}]},"mark":{"type":"rule","color":"black","strokeWidth":2},"encoding":{"y":{"datum":"KIRC","bandPosition":1}}}
]}
]
},
{
"spacing": 14.5,
"hconcat": [
{"title": {"text": "b", "anchor": "start", "fontSize": 22, "fontWeight": "normal", "dx": -17, "offset": 11},
 "width": 1, "height": 1, "data": {"values": []}, "mark": "point", "encoding": {}},
{
"spacing": 39,
"hconcat": [
{
"bounds": "flush",
"spacing": 9.7,
"vconcat": [
{"width": 1, "height": 1, "data": {"values": []}, "mark": "point", "encoding": {}},
{
"width": 241.6, "height": 218.6,
"data": {"name": "sc"},
"layer": [
{"mark": {"type": "point", "filled": true, "color": "black", "size": 11, "opacity": 1},
 "encoding": {
  "x": {"field": "s1pr1", "type": "quantitative", "title": "S1PR1", "scale": {"domain": [0, 100], "nice": false},
        "axis": {"values": [0,10,20,30,40,50,60,70,80,90,100], "labelExpr": "datum.value % 50 === 0 ? datum.label : ''", "grid": false, "labelFlush": false, "domainColor": "black", "domainWidth": 1.5, "tickColor": "black", "tickWidth": 1.5, "tickSize": 5, "labelFontSize": 12, "labelFontWeight": "bold", "labelColor": "black", "labelPadding": 2, "titleFontSize": 14, "titleFontWeight": "normal", "titleColor": "black", "titlePadding": 6}},
  "y": {"field": "socs3", "type": "quantitative", "title": "SOCS3", "scale": {"domain": [0, 100], "nice": false},
        "axis": {"values": [0,10,20,30,40,50,60,70,80,90,100], "labelExpr": "datum.value % 50 === 0 ? datum.label : ''", "grid": false, "labelFlush": false, "domainColor": "black", "domainWidth": 1.5, "tickColor": "black", "tickWidth": 1.5, "tickSize": 5, "labelFontSize": 12, "labelFontWeight": "bold", "labelColor": "black", "labelPadding": 1, "titleFontSize": 14, "titleFontWeight": "normal", "titleColor": "black", "titlePadding": 5}}
 }},
{"transform": [{"regression": "socs3", "on": "s1pr1", "extent": [0, 100]}],
 "mark": {"type": "line", "color": "black", "strokeWidth": 1.5},
 "encoding": {"x": {"field": "s1pr1", "type": "quantitative"}, "y": {"field": "socs3", "type": "quantitative"}}},
{"data": {"values": [{}]},
 "mark": {"type": "text", "align": "right", "baseline": "alphabetic", "dx": 24, "dy": -5, "fontSize": 13, "color": "black", "text": "Spearman r = 0.384"},
 "encoding": {"x": {"datum": 100}, "y": {"datum": 100}}},
{"data": {"values": [{}]},
 "mark": {"type": "text", "align": "right", "baseline": "alphabetic", "dx": 24, "dy": 10.5, "fontSize": 13, "color": "black", "text": "P < 0.0001"},
 "encoding": {"x": {"datum": 100}, "y": {"datum": 100}}}
]
}
]
},
{
"title": {"text": "c", "anchor": "start", "fontSize": 22, "fontWeight": "normal", "dx": -2, "offset": 1},
"vconcat": [
{
"width": 266, "height": 241,
"title": {"text": "pY-STAT3", "fontSize": 15, "fontWeight": "normal", "offset": -3, "dx": 13},
"layer": [
{"data": {"name": "ihc"},
 "transform": [{"bin": {"step": 0.1}, "field": "score", "as": "yb"}, {"window": [{"op": "row_number", "as": "slot"}], "groupby": ["stage", "yb"]}],
 "mark": {"type": "point", "filled": true, "color": "black", "opacity": 1},
 "encoding": {
  "x": {"field": "stage", "type": "nominal", "title": "Stage", "scale": {"type": "band", "domain": ["I","IIa","IIb","IIIa","IIIb","IIIc"], "paddingInner": 0, "paddingOuter": 0},
        "axis": {"labelAngle": 0, "domainColor": "black", "domainWidth": 2, "tickColor": "black", "tickWidth": 2, "tickSize": 4, "labelFontSize": 11, "labelFontWeight": "bold", "labelColor": "black", "labelPadding": 2, "titleFontSize": 11, "titleFontWeight": "bold", "titleColor": "black", "titlePadding": 8}},
  "xOffset": {"field": "slot", "type": "ordinal", "scale": {"domain": [8,6,4,2,1,3,5,7,9]}},
  "y": {"field": "score", "type": "quantitative", "title": "Immuno Score", "scale": {"domain": [2.5, 6.5], "nice": false, "zero": false},
        "axis": {"values": [3,4,5,6], "format": "d", "grid": false, "labelFlush": false, "domainColor": "black", "domainWidth": 2, "tickColor": "black", "tickWidth": 2, "tickSize": 4, "labelFontSize": 11, "labelFontWeight": "bold", "labelColor": "black", "labelPadding": 2, "titleFontSize": 11, "titleFontWeight": "bold", "titleColor": "black", "titlePadding": 4}},
  "shape": {"field": "stage", "type": "nominal", "scale": {"domain": ["I","IIa","IIb","IIIa","IIIb","IIIc"], "range": ["circle","square","triangle-up","triangle-down","diamond","circle"]}, "legend": null},
  "size": {"field": "stage", "type": "nominal", "scale": {"domain": ["I","IIa","IIb","IIIa","IIIb","IIIc"], "range": [20,16,18,18,20,24]}, "legend": null}
 }},
{"data": {"name": "ihcsum"},
 "mark": {"type": "errorbar", "thickness": 2, "color": "black", "ticks": {"size": 11, "thickness": 2, "color": "black"}},
 "encoding": {"x": {"field": "stage", "type": "nominal"}, "y": {"field": "mean", "type": "quantitative", "title": "Immuno Score"}, "yError": {"field": "sd"}}},
{"data": {"name": "ihcsum"},
 "mark": {"type": "tick", "size": 22, "thickness": 2, "color": "black"},
 "encoding": {"x": {"field": "stage", "type": "nominal"}, "y": {"field": "mean", "type": "quantitative", "title": "Immuno Score"}}}
]
}
]
}
]
}
]
}
]
}
